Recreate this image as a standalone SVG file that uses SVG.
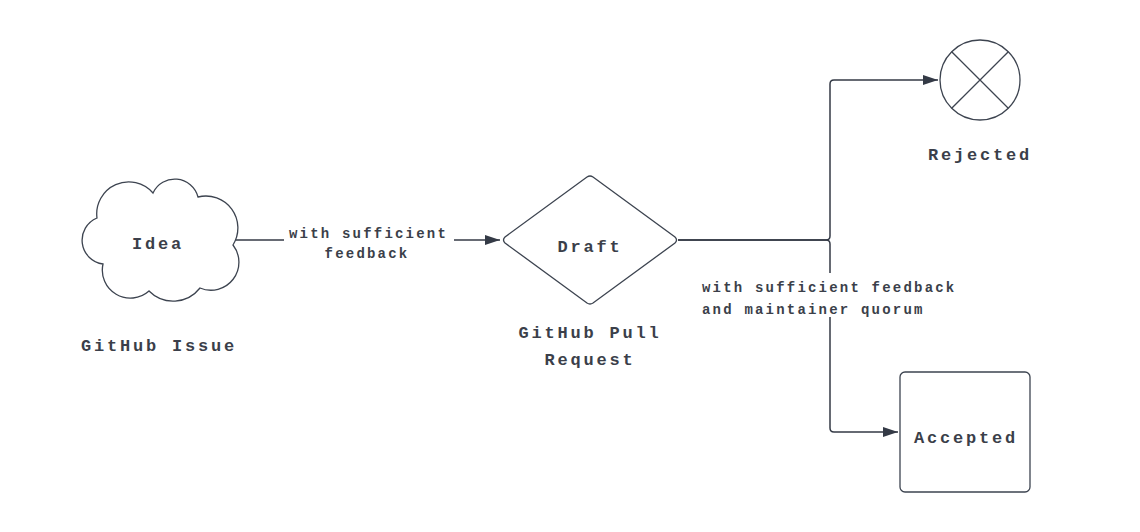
<svg xmlns="http://www.w3.org/2000/svg" width="1140" height="532" viewBox="0 0 1140 532">
<defs>
<marker id="arrow" viewBox="0 0 15 10" refX="15" refY="5" markerWidth="15" markerHeight="10" markerUnits="userSpaceOnUse" orient="auto">
<path d="M0,0 L15,5 L0,10 Z" fill="#343a46"/>
</marker>
<style>
.shape{fill:#ffffff;stroke:#3d4450;stroke-width:1.3;}
.conn{fill:none;stroke:#343a46;stroke-width:1.5;}
.big{font-family:"Liberation Mono","DejaVu Sans Mono",monospace;font-size:17px;font-weight:bold;letter-spacing:2.8px;fill:#3b3f4a;text-anchor:middle;}
.small{font-family:"Liberation Mono","DejaVu Sans Mono",monospace;font-size:14px;font-weight:bold;letter-spacing:2.2px;fill:#3b3f4a;}
.bg{fill:#ffffff;}
</style>
</defs>
<rect width="1140" height="532" fill="#ffffff"/>
<g id="connectors">
<path class="conn" d="M236,240 H500" stroke-width="2" marker-end="url(#arrow)"/>
<rect class="bg" x="284" y="221" width="170" height="42"/>
<text class="small" x="289" y="238">with sufficient</text>
<text class="small" x="367" y="258" text-anchor="middle">feedback</text>
<path class="conn" d="M678,240 H826 Q830,240 830,236 V84 Q830,80 834,80 H938" marker-end="url(#arrow)"/>
<path class="conn" d="M678,240 H826 Q830,240 830,244 V428 Q830,432 834,432 H898" marker-end="url(#arrow)"/>
<rect class="bg" x="696" y="273" width="266" height="44"/>
<text class="small" x="702" y="292">with sufficient feedback</text>
<text class="small" x="702" y="314">and maintainer quorum</text>
</g>
<g id="idea">
<path class="shape" d="M97,218 A32,32 0 0 1 153,193 A24,24 0 0 1 198,197 A32,32 0 0 1 233,245 A28,28 0 0 1 200,288 A34,34 0 0 1 149,291 A28,28 0 0 1 103,264 A24,24 0 0 1 97,218 Z"/>
<text class="big" x="158" y="249">Idea</text>
</g>
<g id="idea-label">
<text class="big" x="159" y="351">GitHub Issue</text>
</g>
<g id="draft">
<path class="shape" d="M587,177 Q590,175 593,177 L675,237 Q678,240 675,243 L593,303 Q590,305 587,303 L505,243 Q502,240 505,237 Z"/>
<text class="big" x="590" y="252">Draft</text>
</g>
<g id="draft-label">
<text class="big" x="590" y="338">GitHub Pull</text>
<text class="big" x="590" y="365">Request</text>
</g>
<g id="rejected">
<circle class="shape" cx="980" cy="80" r="40"/>
<path class="shape" d="M951.7,51.7 L1008.3,108.3 M1008.3,51.7 L951.7,108.3" fill="none"/>
<text class="big" x="980" y="160">Rejected</text>
</g>
<g id="accepted">
<rect class="shape" x="900" y="372" width="130" height="120" rx="5" ry="5"/>
<text class="big" x="966" y="443">Accepted</text>
</g>
</svg>
